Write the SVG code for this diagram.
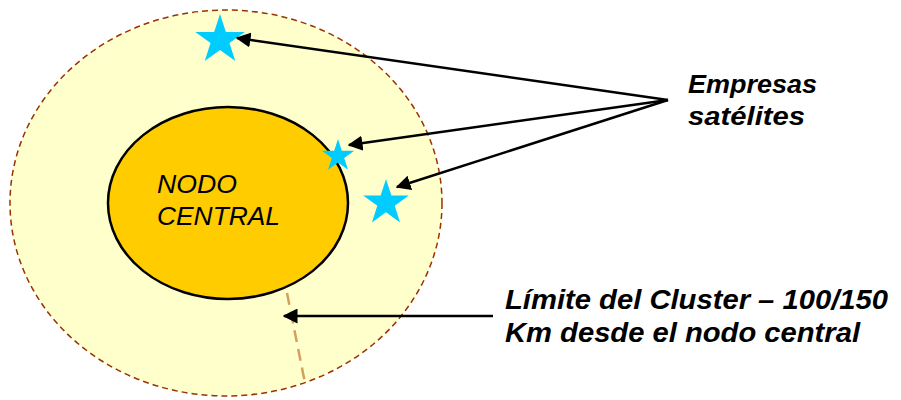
<svg xmlns="http://www.w3.org/2000/svg" width="901" height="400" viewBox="0 0 901 400">
<defs>
<style>
.lbl{font-family:"Liberation Sans",Arial,sans-serif;font-style:italic;font-weight:bold;fill:#000}
.node{font-family:"Liberation Sans",Arial,sans-serif;font-style:italic;font-size:25px;fill:#000}
.star{fill:#00CCFF}
.arr{stroke:#000;stroke-width:2.5;fill:none;marker-end:url(#ah)}
</style>
<marker id="ah" viewBox="0 0 10 10" refX="9" refY="5" markerWidth="6" markerHeight="6" orient="auto" markerUnits="strokeWidth">
<path d="M0,0 L10,5 L0,10 z" fill="#000"/>
</marker>
<path id="st" d="M0,-1 L0.2245,-0.309 L0.951,-0.309 L0.3633,0.118 L0.5878,0.809 L0,0.382 L-0.5878,0.809 L-0.3633,0.118 L-0.951,-0.309 L-0.2245,-0.309 z"/>
</defs>
<g id="cluster">
<ellipse cx="226" cy="203" rx="216" ry="193" fill="#FFFFCC" stroke="#993300" stroke-width="1.5" stroke-dasharray="6,4"/>
</g>
<g id="nodo-central">
<ellipse cx="228" cy="203" rx="120" ry="96" fill="#FFCC00" stroke="#000" stroke-width="2.5"/>
<text class="node" x="157" y="193" textLength="80" lengthAdjust="spacingAndGlyphs">NODO</text>
<text class="node" x="157" y="225" textLength="123" lengthAdjust="spacingAndGlyphs">CENTRAL</text>
</g>
<g id="radio">
<line x1="287" y1="293" x2="305" y2="383" stroke="#D4A060" stroke-width="2.5" stroke-dasharray="12,7"/>
</g>
<g id="star1"><use href="#st" class="star" transform="translate(220,40) scale(26)"/></g>
<g id="star2"><use href="#st" class="star" transform="translate(338,156) scale(17)"/></g>
<g id="star3"><use href="#st" class="star" transform="translate(386,203) scale(24)"/></g>
<g id="connectors">
<line class="arr" x1="668" y1="100" x2="237" y2="38"/>
<line class="arr" x1="668" y1="100" x2="349" y2="145"/>
<line class="arr" x1="668" y1="100" x2="397" y2="187"/>
<line class="arr" x1="493" y1="316" x2="284" y2="316"/>
</g>
<g id="label-empresas">
<text class="lbl" font-size="25" x="688" y="93" textLength="129" lengthAdjust="spacingAndGlyphs">Empresas</text>
<text class="lbl" font-size="25" x="688" y="125" textLength="117" lengthAdjust="spacingAndGlyphs">satélites</text>
</g>
<g id="label-limite">
<text class="lbl" font-size="28" x="505" y="309" textLength="383" lengthAdjust="spacingAndGlyphs">Límite del Cluster – 100/150</text>
<text class="lbl" font-size="28" x="505" y="342" textLength="355" lengthAdjust="spacingAndGlyphs">Km desde el nodo central</text>
</g>
</svg>
